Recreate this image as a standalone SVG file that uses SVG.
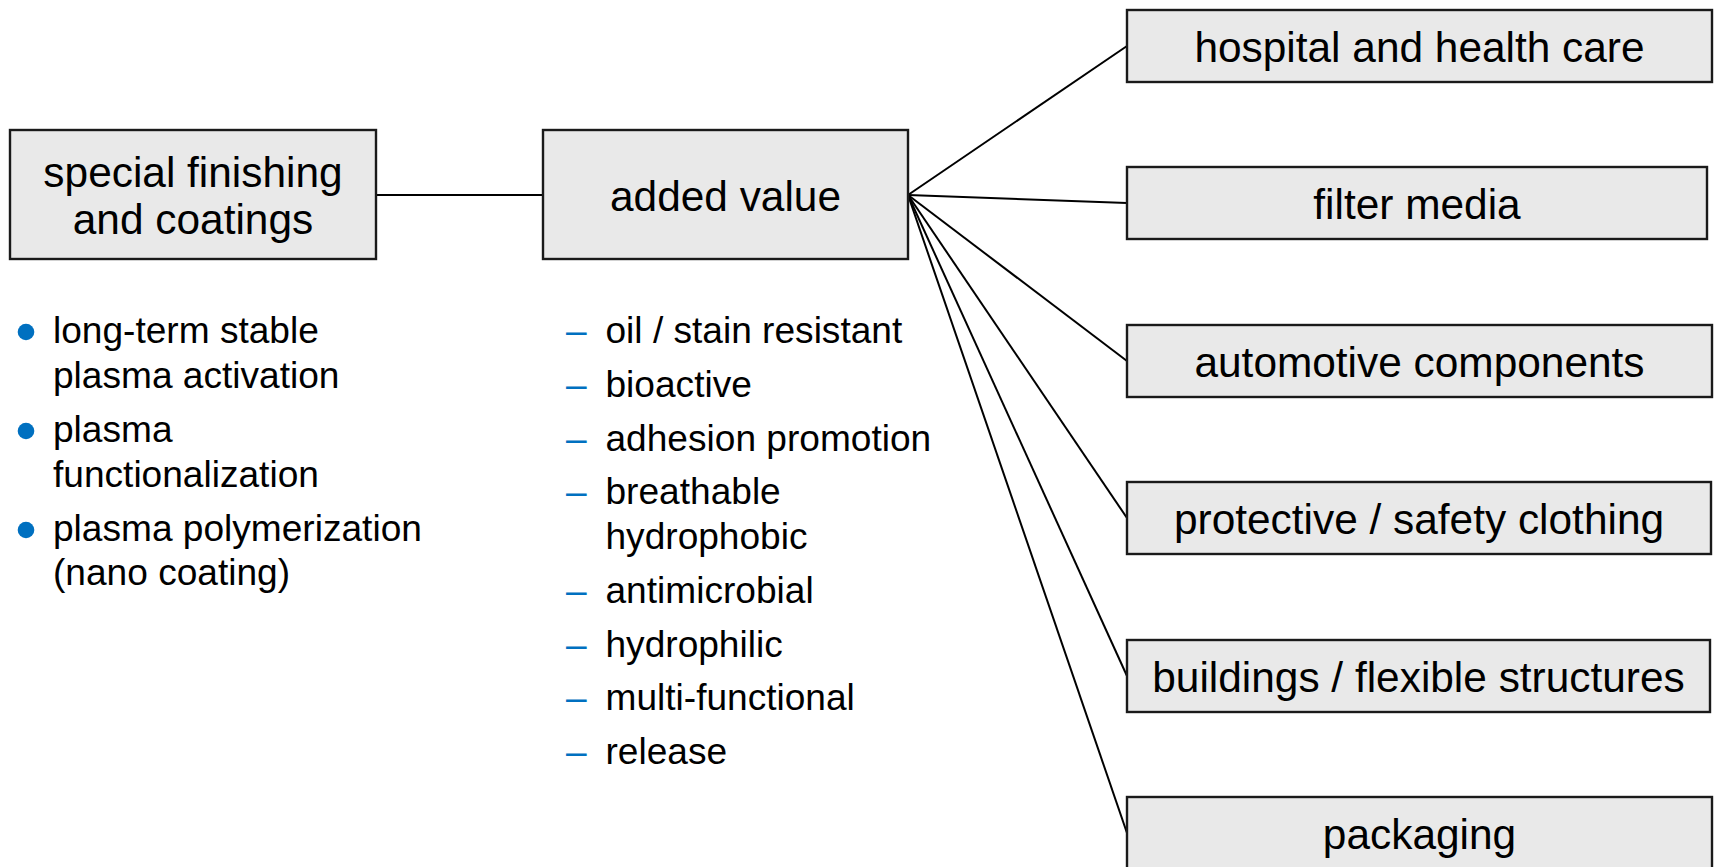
<svg xmlns="http://www.w3.org/2000/svg" width="1714" height="867" viewBox="0 0 1714 867">
<style>
.box{fill:#e9e9e9;stroke:#1a1a1a;stroke-width:2.4}
.lbl{font-family:"Liberation Sans",Arial,sans-serif;font-size:42.4px;fill:#000;text-anchor:middle}
.li{font-family:"Liberation Sans",Arial,sans-serif;font-size:37.1px;fill:#000}
.dash{font-family:"Liberation Sans",Arial,sans-serif;font-size:37.1px;fill:#0070c0}
.dot{fill:#0070c0}
.con{stroke:#000;stroke-width:2;fill:none}
</style>
<rect width="1714" height="867" fill="#fff"/>
<g id="connectors">
<line class="con" x1="376" y1="195" x2="543" y2="195"/>
<line class="con" x1="908" y1="195" x2="1127" y2="46"/>
<line class="con" x1="908" y1="195" x2="1127" y2="203"/>
<line class="con" x1="908" y1="195" x2="1127" y2="361"/>
<line class="con" x1="908" y1="195" x2="1127" y2="518"/>
<line class="con" x1="908" y1="195" x2="1127" y2="676"/>
<line class="con" x1="908" y1="195" x2="1127" y2="833"/>
</g>
<g id="special-finishing">
<rect class="box" x="10" y="130" width="366" height="129"/>
<text class="lbl" x="193" y="187">special finishing</text>
<text class="lbl" x="193" y="234">and coatings</text>
</g>
<g id="added-value">
<rect class="box" x="543" y="130" width="365" height="129"/>
<text class="lbl" x="725.5" y="211">added value</text>
</g>
<g id="hospital">
<rect class="box" x="1127" y="10" width="585" height="72"/>
<text class="lbl" x="1419.5" y="62">hospital and health care</text>
</g>
<g id="filter">
<rect class="box" x="1127" y="167" width="580" height="72"/>
<text class="lbl" x="1417" y="219">filter media</text>
</g>
<g id="automotive">
<rect class="box" x="1127" y="325" width="585" height="72"/>
<text class="lbl" x="1419.5" y="377">automotive components</text>
</g>
<g id="protective">
<rect class="box" x="1127" y="482" width="584" height="72"/>
<text class="lbl" x="1419" y="534">protective / safety clothing</text>
</g>
<g id="buildings">
<rect class="box" x="1127" y="640" width="583" height="72"/>
<text class="lbl" x="1418.5" y="692">buildings / flexible structures</text>
</g>
<g id="packaging">
<rect class="box" x="1127" y="797" width="585" height="72"/>
<text class="lbl" x="1419.5" y="849">packaging</text>
</g>
<g id="finishing-list">
<circle class="dot" cx="26" cy="332" r="8.3"/>
<text class="li" x="53" y="343">long-term stable</text>
<text class="li" x="53" y="388">plasma activation</text>
<circle class="dot" cx="26" cy="431" r="8.3"/>
<text class="li" x="53" y="442">plasma</text>
<text class="li" x="53" y="487">functionalization</text>
<circle class="dot" cx="26" cy="530" r="8.3"/>
<text class="li" x="53" y="541">plasma polymerization</text>
<text class="li" x="53" y="585">(nano coating)</text>
</g>
<g id="value-list">
<text class="dash" x="566" y="343">–</text><text class="li" x="605.5" y="343">oil / stain resistant</text>
<text class="dash" x="566" y="397">–</text><text class="li" x="605.5" y="397">bioactive</text>
<text class="dash" x="566" y="451">–</text><text class="li" x="605.5" y="451">adhesion promotion</text>
<text class="dash" x="566" y="504">–</text><text class="li" x="605.5" y="504">breathable</text>
<text class="li" x="605.5" y="549">hydrophobic</text>
<text class="dash" x="566" y="603">–</text><text class="li" x="605.5" y="603">antimicrobial</text>
<text class="dash" x="566" y="657">–</text><text class="li" x="605.5" y="657">hydrophilic</text>
<text class="dash" x="566" y="710">–</text><text class="li" x="605.5" y="710">multi-functional</text>
<text class="dash" x="566" y="764">–</text><text class="li" x="605.5" y="764">release</text>
</g>
</svg>
